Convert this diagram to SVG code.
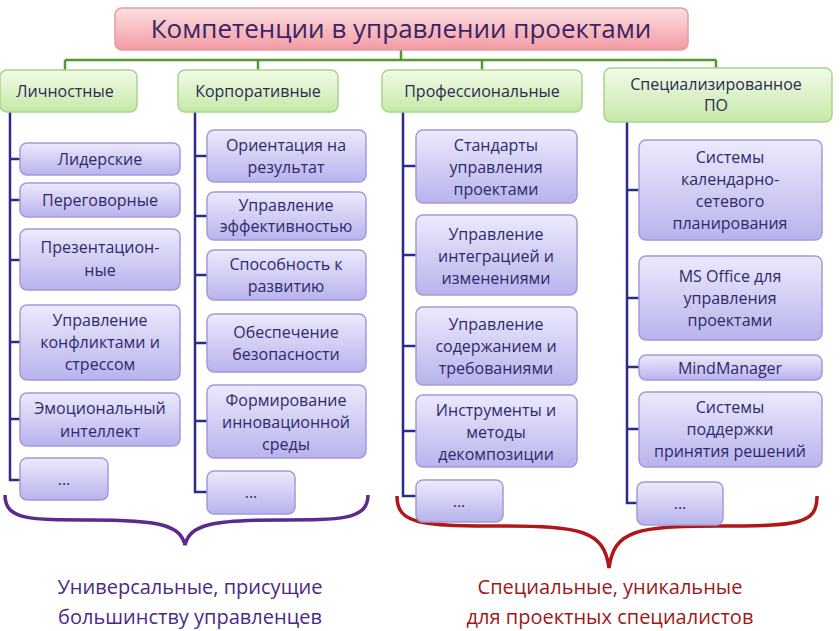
<svg xmlns="http://www.w3.org/2000/svg" width="840" height="631" viewBox="0 0 840 631">
<defs>
<linearGradient id="gp" x1="0" y1="0" x2="0" y2="1"><stop offset="0" stop-color="#fde0e2"/><stop offset="1" stop-color="#f39aa2"/></linearGradient>
<linearGradient id="gg" x1="0" y1="0" x2="0" y2="1"><stop offset="0" stop-color="#f2fbe8"/><stop offset="1" stop-color="#c6e8a8"/></linearGradient>
<linearGradient id="gb" x1="0" y1="0" x2="0" y2="1"><stop offset="0" stop-color="#eceafd"/><stop offset="1" stop-color="#b8b3ec"/></linearGradient>
</defs>
<style>
text{font-family:"Open Sans","Noto Sans","DejaVu Sans",sans-serif;text-anchor:middle}
.t{font-size:26px;fill:#3b2466}
.h rect{fill:url(#gg);stroke:#a9d38a;stroke-width:1.5}
.h text{font-size:16px;fill:#2d2a55}
.n rect{fill:url(#gb);stroke:#a19bd9;stroke-width:1.5}
.n text{font-size:16px;fill:#2f2a6b}
.g{stroke:#4e9a2a;stroke-width:2.5;fill:none}
.b{stroke:#2c2a8a;stroke-width:2.5;fill:none}
.br1{stroke:#5a2a8c;stroke-width:3.5;fill:none}
.br2{stroke:#b01818;stroke-width:3.5;fill:none}
.l1{font-size:20px;fill:#4a2a88}
.l2{font-size:20px;fill:#9e1818}
</style>
<g id="connectors">
<path class="g" d="M401 50V60M65 60H716M65 60V70M258 60V70M482 60V70M716 60V68"/>
<path class="b" d="M10 112V480H20M10 159H20M10 200H20M10 260H20M10 342H20M10 419H20"/>
<path class="b" d="M195 112V492H207M195 156H207M195 216H207M195 275H207M195 343H207M195 421H207"/>
<path class="b" d="M403 112V496H416M403 166H416M403 255H416M403 346H416M403 431H416"/>
<path class="b" d="M627 122V503H637M627 190H639M627 298H639M627 367H639M627 429H639"/>
<path class="br1" d="M5 495C5 520 30 520 90 520C160 520 180 525 185 545C190 525 210 520 280 520C340 520 368 520 368 495"/>
<path class="br2" d="M397 496C397 524 420 526 500 526C580 526 604 530 609 568C614 530 638 526 718 526C800 526 817 524 817 496"/>
</g>
<g id="title"><rect x="115" y="8" width="573" height="42" rx="7" fill="url(#gp)" stroke="#e89aa0" stroke-width="1.5"/><text class="t" x="401" y="38">Компетенции в управлении проектами</text></g>
<g id="h1" class="h"><rect x="0" y="70" width="137" height="42" rx="7"/><text x="65" y="97">Личностные</text></g>
<g id="h2" class="h"><rect x="178" y="70" width="160" height="42" rx="7"/><text x="258" y="97">Корпоративные</text></g>
<g id="h3" class="h"><rect x="382" y="70" width="200" height="42" rx="7"/><text x="482" y="97">Профессиональные</text></g>
<g id="h4" class="h"><rect x="604" y="68" width="228" height="54" rx="7"/><text x="716" y="90">Специализированное</text><text x="716" y="111">ПО</text></g>
<g id="c1" class="n">
<rect x="20" y="143" width="160" height="32" rx="7"/><text x="100" y="165">Лидерские</text>
<rect x="20" y="183" width="160" height="34" rx="7"/><text x="100" y="206">Переговорные</text>
<rect x="20" y="229" width="160" height="61" rx="7"/><text x="100" y="253">Презентацион-</text><text x="100" y="276">ные</text>
<rect x="20" y="305" width="160" height="75" rx="7"/><text x="100" y="326">Управление</text><text x="100" y="348">конфликтами и</text><text x="100" y="370">стрессом</text>
<rect x="20" y="393" width="160" height="53" rx="7"/><text x="100" y="414">Эмоциональный</text><text x="100" y="437">интеллект</text>
<rect x="20" y="458" width="88" height="42" rx="7"/><text x="64" y="485">...</text>
</g>
<g id="c2" class="n">
<rect x="207" y="130" width="159" height="52" rx="7"/><text x="286" y="151">Ориентация на</text><text x="286" y="173">результат</text>
<rect x="207" y="192" width="159" height="48" rx="7"/><text x="286" y="211">Управление</text><text x="286" y="232">эффективностью</text>
<rect x="207" y="250" width="159" height="50" rx="7"/><text x="286" y="270">Способность к</text><text x="286" y="292">развитию</text>
<rect x="207" y="314" width="159" height="58" rx="7"/><text x="286" y="338">Обеспечение</text><text x="286" y="360">безопасности</text>
<rect x="207" y="385" width="159" height="73" rx="7"/><text x="286" y="406">Формирование</text><text x="286" y="428">инновационной</text><text x="286" y="450">среды</text>
<rect x="207" y="471" width="88" height="43" rx="7"/><text x="251" y="498">...</text>
</g>
<g id="c3" class="n">
<rect x="416" y="130" width="161" height="73" rx="7"/><text x="496" y="151">Стандарты</text><text x="496" y="173">управления</text><text x="496" y="195">проектами</text>
<rect x="416" y="215" width="161" height="80" rx="7"/><text x="496" y="240">Управление</text><text x="496" y="262">интеграцией и</text><text x="496" y="284">изменениями</text>
<rect x="416" y="307" width="161" height="78" rx="7"/><text x="496" y="330">Управление</text><text x="496" y="352">содержанием и</text><text x="496" y="374">требованиями</text>
<rect x="416" y="395" width="161" height="72" rx="7"/><text x="496" y="416">Инструменты и</text><text x="496" y="438">методы</text><text x="496" y="460">декомпозиции</text>
<rect x="416" y="480" width="87" height="42" rx="7"/><text x="459" y="507">...</text>
</g>
<g id="c4" class="n">
<rect x="639" y="140" width="183" height="100" rx="7"/><text x="730" y="163">Системы</text><text x="730" y="185">календарно-</text><text x="730" y="207">сетевого</text><text x="730" y="229">планирования</text>
<rect x="639" y="256" width="183" height="84" rx="7"/><text x="730" y="282">MS Office для</text><text x="730" y="304">управления</text><text x="730" y="326">проектами</text>
<rect x="639" y="355" width="183" height="25" rx="7"/><text x="730" y="374">MindManager</text>
<rect x="639" y="392" width="183" height="75" rx="7"/><text x="730" y="413">Системы</text><text x="730" y="435">поддержки</text><text x="730" y="457">принятия решений</text>
<rect x="637" y="482" width="86" height="43" rx="7"/><text x="680" y="509">...</text>
</g>
<g id="labels">
<text class="l1" x="190" y="594">Универсальные, присущие</text>
<text class="l1" x="190" y="624">большинству управленцев</text>
<text class="l2" x="610" y="594">Специальные, уникальные</text>
<text class="l2" x="610" y="624">для проектных специалистов</text>
</g>
</svg>
